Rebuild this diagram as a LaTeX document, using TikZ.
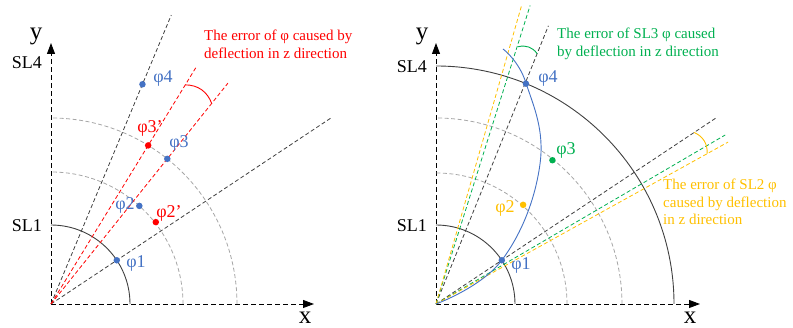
\documentclass[tikz,border=0pt]{standalone}
\usepackage{fontspec}
\setmainfont{Liberation Serif}
\usetikzlibrary{arrows.meta,positioning}
\definecolor{PhiBlue}{HTML}{4472C4}
\definecolor{ErrRed}{HTML}{FF0000}
\definecolor{ErrGreen}{HTML}{00B050}
\definecolor{ErrGold}{HTML}{FFC000}
\definecolor{GuideGray}{HTML}{A6A6A6}
\definecolor{RayInk}{HTML}{404040}

\begin{document}
\begin{tikzpicture}[x=1pt,y=1pt,>={Triangle[length=11pt,width=8pt]}]
\tikzset{
  axisline/.style={draw=black,line width=0.9pt,dash pattern=on 5pt off 3pt,->},
  ray/.style={draw=RayInk,line width=0.8pt,dash pattern=on 4pt off 2.5pt},
  guide/.style={draw=GuideGray,line width=0.8pt,dash pattern=on 4pt off 2.5pt},
  ring/.style={draw=black!75,line width=0.9pt},
  errarc/.style={line width=0.9pt,bend left=35},
  dotpt/.style={circle,inner sep=0pt,minimum size=6.5pt},
  phi/.style={font=\fontsize{18}{20}\selectfont,inner sep=1pt},
  axlabel/.style={font=\fontsize{25}{27}\selectfont,inner sep=0pt},
  sl/.style={font=\fontsize{18}{20}\selectfont,anchor=east,inner sep=0pt},
  note/.style={font=\fontsize{15}{17.5}\selectfont,align=left,anchor=west,inner sep=0pt}
}
\useasboundingbox (0,0) rectangle (793,328);

% left panel
\begin{scope}[shift={(51,24)}]
\coordinate (aO) at (0,0);
\coordinate (aX) at (263,0);
\coordinate (aY) at (0,261);
\draw[axisline] (aO) -- (aX);
\draw[axisline] (aO) -- (aY);
\node[axlabel] (ax) at (254,-14) {x};
\node[axlabel] (ay) at (-15,268) {y};
\node[sl] (asl4) at (-9,241) {SL4};
\node[sl] (asl1) at (-9,78) {SL1};
\draw[ring] (79,0) arc[start angle=0,end angle=90,radius=79];
\draw[guide] (132,0) arc[start angle=0,end angle=90,radius=132];
\draw[guide] (186,0) arc[start angle=0,end angle=90,radius=186];
\coordinate (ar1) at (33.6:336);
\coordinate (ar2) at (67.4:313);
\coordinate (ae1) at (58.5:279);
\coordinate (ae2) at (51.3:283);
\draw[ray] (aO) -- (ar1);
\draw[ray] (aO) -- (ar2);
\draw[ray,draw=ErrRed] (aO) -- (ae1);
\draw[ray,draw=ErrRed] (aO) -- (ae2);
\coordinate (am1) at (58.5:257);
\coordinate (am2) at (51.3:257);
\draw[errarc,ErrRed] (am1) to (am2);
\node[dotpt,fill=PhiBlue] (a1) at (33.6:79) {};
\node[dotpt,fill=PhiBlue] (a2) at (48:132) {};
\node[dotpt,fill=ErrRed] (a2e) at (38:133) {};
\node[dotpt,fill=ErrRed] (a3e) at (58.5:186) {};
\node[dotpt,fill=PhiBlue] (a3) at (51.3:186) {};
\node[dotpt,fill=PhiBlue] (a4) at (67.4:238) {};
\node[phi,text=PhiBlue] (ta1) at (85,41) {φ1};
\node[phi,text=PhiBlue] (ta2) at (74,99) {φ2};
\node[phi,text=ErrRed] (ta2e) at (118,91) {φ2’};
\node[phi,text=ErrRed] (ta3e) at (99,176) {φ3’};
\node[phi,text=PhiBlue] (ta3) at (128,161) {φ3};
\node[phi,text=PhiBlue] (ta4) at (112,225) {φ4};
\node[note,text=ErrRed] (anote) at (153,259.5) {The error of φ caused by\\deflection in z direction};
\end{scope}

% right panel
\begin{scope}[shift={(436,24)}]
\coordinate (bO) at (0,0);
\coordinate (bX) at (264,0);
\coordinate (bY) at (0,261);
\draw[axisline] (bO) -- (bX);
\draw[axisline] (bO) -- (bY);
\node[axlabel] (bx) at (254,-14) {x};
\node[axlabel] (by) at (-14,268) {y};
\node[sl] (bsl4) at (-9,237) {SL4};
\node[sl] (bsl1) at (-9,78) {SL1};
\draw[ring] (79,0) arc[start angle=0,end angle=90,radius=79];
\draw[guide] (131,0) arc[start angle=0,end angle=90,radius=131];
\draw[guide] (186,0) arc[start angle=0,end angle=90,radius=186];
\draw[ring] (238,0) arc[start angle=0,end angle=90,radius=238];
\coordinate (br1) at (33.6:336);
\coordinate (br2) at (68:300);
\coordinate (bg1) at (72.5:313);
\coordinate (bg2) at (30.3:335);
\coordinate (by1) at (74:311);
\coordinate (by2) at (29:334);
\draw[ray] (bO) -- (br1);
\draw[ray] (bO) -- (br2);
\draw[ray,draw=ErrGreen] (bO) -- (bg1);
\draw[ray,draw=ErrGreen] (bO) -- (bg2);
\draw[ray,draw=ErrGold] (bO) -- (by1);
\draw[ray,draw=ErrGold] (bO) -- (by2);
\coordinate (bm1) at (72.3:270);
\coordinate (bm2) at (68:270);
\coordinate (bm3) at (33.6:310);
\coordinate (bm4) at (29:310);
\draw[errarc,ErrGreen] (bm1) to (bm2);
\draw[errarc,ErrGold] (bm3) to (bm4);
\draw[PhiBlue,line width=0.9pt] plot[smooth,tension=0.7] coordinates
  {(0,0) (66,44) (104,140) (90,221) (67,255)};
\node[dotpt,fill=PhiBlue] (b1) at (33.6:79) {};
\node[dotpt,fill=ErrGold] (b2) at (48.7:132) {};
\node[dotpt,fill=ErrGreen] (b3) at (51:185) {};
\node[dotpt,fill=PhiBlue] (b4) at (67.8:238) {};
\node[phi,text=PhiBlue] (tb1) at (85,39) {φ1};
\node[phi,text=ErrGold] (tb2) at (69,96) {φ2};
\node[phi,text=ErrGreen] (tb3) at (130,154) {φ3};
\node[phi,text=PhiBlue] (tb4) at (112,226) {φ4};
\node[note,text=ErrGreen] (bnote1) at (121,260) {The error of SL3 φ caused\\by deflection in z direction};
\node[note,text=ErrGold] (bnote2) at (227,102) {The error of SL2 φ\\caused by deflection\\in z direction};
\end{scope}
\end{tikzpicture}
\end{document}
